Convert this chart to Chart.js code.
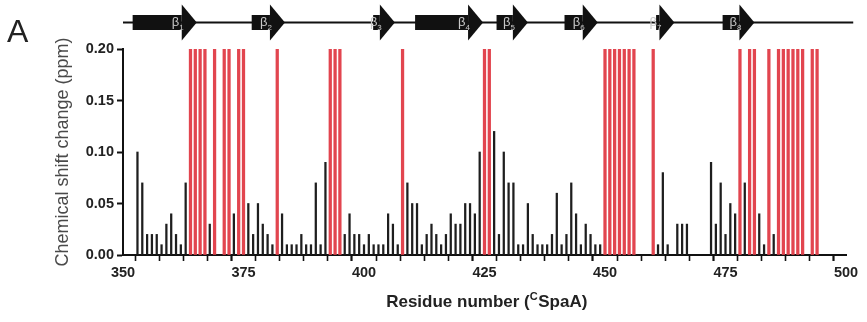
<!DOCTYPE html>
<html>
<head>
<meta charset="utf-8">
<script src="https://cdn.jsdelivr.net/npm/chart.js@4"></script>
<style>
html,body{margin:0;padding:0;background:#fff;}
#wrap{position:relative;width:867px;height:322px;}
</style>
</head>
<body>
<div id="wrap"><canvas id="c" width="867" height="322"></canvas></div>
<script>
// ---- data ----
const shiftResidues = [353,354,355,356,357,358,359,360,361,362,363,368,373,376,377,378,379,380,381,383,384,385,386,387,388,389,390,391,392,396,397,398,399,400,401,402,403,404,405,406,407,409,410,411,412,413,414,415,416,417,418,419,420,421,422,423,424,427,428,429,430,431,432,433,434,435,436,437,438,439,440,441,442,443,444,445,446,447,448,449,461,462,463,465,466,467,472,473,474,475,476,477,479,482,483,485];
const shiftValues   = [0.10,0.07,0.02,0.02,0.02,0.01,0.03,0.04,0.02,0.01,0.07,0.03,0.04,0.05,0.02,0.05,0.03,0.02,0.01,0.04,0.01,0.01,0.01,0.02,0.01,0.01,0.07,0.01,0.09,0.02,0.04,0.02,0.02,0.01,0.02,0.01,0.01,0.01,0.04,0.03,0.01,0.07,0.05,0.05,0.01,0.02,0.03,0.02,0.01,0.02,0.04,0.03,0.03,0.05,0.05,0.04,0.10,0.12,0.02,0.10,0.07,0.07,0.01,0.01,0.05,0.02,0.01,0.01,0.01,0.02,0.06,0.01,0.02,0.07,0.04,0.01,0.03,0.02,0.01,0.01,0.01,0.08,0.01,0.03,0.03,0.03,0.09,0.03,0.07,0.02,0.05,0.04,0.07,0.04,0.01,0.02];
const missingResidues = [364,365,366,367,369,371,372,374,375,382,393,394,395,408,425,426,450,451,452,453,454,455,456,460,478,480,481,484,486,487,488,489,490,491,493,494];
const missingLevel = 0.20;
const xTicksMajor = [350,375,400,425,450,475,500];
const yTickLabels = ['0.00','0.05','0.10','0.15','0.20'];
// secondary structure (beta strands), residue numbers
const strandStart  = [352.0,376.7,401.9,410.6,427.5,441.6,460.6,474.4];
const strandTip    = [365.3,383.6,406.4,424.7,434.0,448.5,464.4,481.0];
const strandLabels = ['β1','β2','β3','β4','β5','β6','β7','β8'];
const topoRange = [350,501.5];

const FONT = "'Liberation Sans', Arial, Helvetica, sans-serif";

const topoPlugin = {
  id:'topo',
  afterDraw(chart){
    const ctx = chart.ctx, xs = chart.scales.x, ca = chart.chartArea;
    ctx.save();
    // panel letter
    ctx.fillStyle = '#222';
    ctx.font = '32px ' + FONT;
    ctx.textAlign = 'left'; ctx.textBaseline = 'alphabetic';
    ctx.fillText('A', 7, 42);
    // topology line
    const yLine = 22.5;
    ctx.strokeStyle = '#111'; ctx.lineWidth = 2;
    ctx.beginPath();
    ctx.moveTo(xs.getPixelForValue(topoRange[0]), yLine);
    ctx.lineTo(xs.getPixelForValue(topoRange[1]), yLine);
    ctx.stroke();
    ctx.fillStyle = '#111';
    for (let i=0;i<strandStart.length;i++){
      const x0 = xs.getPixelForValue(strandStart[i]);
      const xt = xs.getPixelForValue(strandTip[i]);
      const xb = xt - 15;
      ctx.fillRect(x0, yLine-7.5, Math.max(0,xb-x0), 15);
      ctx.beginPath();
      ctx.moveTo(xb, yLine-18);
      ctx.lineTo(xt, yLine);
      ctx.lineTo(xb, yLine+18);
      ctx.closePath();
      ctx.fill();
    }
    ctx.fillStyle = '#c8c8c8';
    ctx.textBaseline = 'middle';
    for (let i=0;i<strandStart.length;i++){
      const xt = xs.getPixelForValue(strandTip[i]);
      const xb = xt - 15;
      const cx = xb - 4;
      ctx.font = '13px ' + FONT;
      const w1 = ctx.measureText('β').width;
      ctx.font = '8px ' + FONT;
      const sub = strandLabels[i].slice(1);
      const w2 = ctx.measureText(sub).width;
      const start = cx - (w1+w2)/2;
      ctx.font = '13px ' + FONT;
      ctx.textAlign = 'left';
      ctx.fillText('β', start, yLine);
      ctx.font = '8px ' + FONT;
      ctx.fillText(sub, start + w1, yLine + 5);
    }
    // x axis title with superscript
    const ty = 307;
    const p1 = 'Residue number (', sup = 'C', p2 = 'SpaA)';
    ctx.fillStyle = '#222';
    ctx.textBaseline = 'alphabetic';
    ctx.font = '600 17px ' + FONT;
    const a = ctx.measureText(p1).width, c = ctx.measureText(p2).width;
    ctx.font = '600 11px ' + FONT;
    const b = ctx.measureText(sup).width;
    const tw = a+b+c;
    let sx = (ca.left+ca.right)/2 - tw/2 + 2;
    ctx.font = '600 17px ' + FONT;
    ctx.fillText(p1, sx, ty);
    ctx.font = '600 11px ' + FONT;
    ctx.fillText(sup, sx + a, ty - 7);
    ctx.font = '600 17px ' + FONT;
    ctx.fillText(p2, sx + a + b + 0.5, ty);
    ctx.restore();
  }
};

const blackData = shiftResidues.map((r,i)=>({x:r, y:shiftValues[i]}));
const redData = missingResidues.map(r=>({x:r, y:missingLevel}));

new Chart(document.getElementById('c'), {
  type:'bar',
  data:{
    datasets:[
      {data:redData, backgroundColor:'#e2454f', barThickness:2.6, grouped:false, order:2},
      {data:blackData, backgroundColor:'#1e1e1e', barThickness:1.6, grouped:false, order:1}
    ]
  },
  options:{
    responsive:false,
    animation:false,
    devicePixelRatio:1,
    layout:{padding:{left:50, right:21, top:49, bottom:0}},
    plugins:{legend:{display:false}, tooltip:{enabled:false}},
    scales:{
      x:{
        type:'linear', min:350, max:500, offset:false, z:1,
        afterBuildTicks(s){ const t=[]; for(let v=350; v<=500; v+=5) t.push({value:v}); s.ticks=t; },
        afterFit(s){ s.height = 67; },
        border:{display:true, color:'#111', width:2},
        grid:{drawOnChartArea:false, drawTicks:true, tickLength:6, tickColor:'#111',
              tickWidth:(c)=> (xTicksMajor.includes(c.tick && c.tick.value) ? 2.2 : 1.6)},
        ticks:{autoSkip:false, maxRotation:0, padding:3, color:'#222',
               font:{family:FONT, size:14.5, weight:'bold'},
               callback:(v)=> xTicksMajor.includes(v) ? String(v) : ''}
      },
      y:{
        min:0, max:0.2, z:1,
        afterBuildTicks(s){ s.ticks = yTickLabels.map(l=>({value:parseFloat(l)})); },
        afterFit(s){ s.width = 73; },
        border:{display:true, color:'#111', width:2},
        grid:{drawOnChartArea:false, drawTicks:true, tickLength:6, tickColor:'#111', tickWidth:2},
        ticks:{padding:3, color:'#222', font:{family:FONT, size:14.5, weight:'bold'},
               callback:(v)=> yTickLabels.find(l=>Math.abs(parseFloat(l)-v)<1e-9) || ''},
        title:{display:true, text:'Chemical shift change (ppm)', color:'#4a4a4a',
               font:{family:FONT, size:18}, padding:{top:2,bottom:2}}
      }
    }
  },
  plugins:[topoPlugin]
});
</script>
</body>
</html>
